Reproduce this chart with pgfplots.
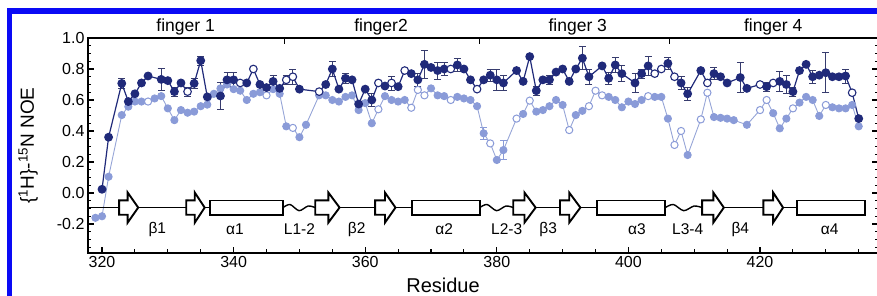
\documentclass[border=0pt]{standalone}
\usepackage{fontspec}
\setmainfont{Liberation Sans}
\usepackage{pgfplots}
\pgfplotsset{compat=1.18}
\usepackage{pgfplotstable}
\definecolor{dk}{RGB}{32,42,122}
\definecolor{dkerr}{RGB}{55,60,110}
\definecolor{lt}{RGB}{138,155,216}
\definecolor{ltline}{RGB}{150,165,215}
\definecolor{frameblue}{RGB}{10,10,245}

\pgfplotstableread{
x y o
320 0.024 f
321 0.36 f
323 0.707 f
324 0.59 f
325 0.64 f
326 0.71 f
327 0.755 f
329 0.733 f
330 0.725 f
331 0.654 f
332 0.71 f
333 0.654 o
334 0.707 f
335 0.854 f
336 0.62 f
338 0.626 f
339 0.73 f
340 0.73 f
341 0.71 o
342 0.71 f
343 0.80 o
344 0.70 f
345 0.68 f
346 0.72 f
347 0.675 f
348 0.73 o
349 0.75 o
350 0.67 f
353 0.654 o
354 0.70 f
355 0.80 f
356 0.67 f
357 0.74 f
358 0.73 f
359 0.574 f
360 0.67 f
361 0.60 f
362 0.71 o
363 0.69 f
364 0.71 o
365 0.686 f
366 0.79 o
367 0.77 f
368 0.73 f
369 0.83 f
370 0.81 f
371 0.79 f
372 0.80 f
373 0.80 o
374 0.826 f
375 0.80 f
376 0.73 f
377 0.67 o
378 0.73 f
379 0.76 f
380 0.73 f
381 0.71 f
383 0.79 f
384 0.72 f
385 0.88 f
386 0.66 f
387 0.73 f
388 0.73 f
389 0.78 f
390 0.80 f
391 0.72 f
392 0.80 f
393 0.87 f
394 0.75 f
396 0.82 f
397 0.74 f
398 0.826 f
399 0.77 f
401 0.71 f
402 0.77 f
403 0.82 f
404 0.77 o
405 0.80 o
406 0.836 f
407 0.75 o
408 0.71 f
409 0.64 f
411 0.79 f
412 0.71 o
413 0.77 f
414 0.75 f
415 0.71 f
417 0.745 f
418 0.675 f
420 0.70 o
421 0.686 f
422 0.71 o
423 0.72 f
424 0.70 f
425 0.654 f
426 0.79 f
427 0.83 f
428 0.75 f
429 0.76 f
430 0.776 f
431 0.75 f
432 0.75 f
433 0.755 f
434 0.647 o
435 0.48 f
}\darkdata

\pgfplotstableread{
x y e
323 0.707 0.035
329 0.733 0.07
331 0.654 0.03
333 0.654 0.03
334 0.707 0.035
335 0.854 0.03
338 0.626 0.085
339 0.73 0.045
340 0.73 0.05
346 0.72 0.04
348 0.73 0.03
349 0.75 0.05
355 0.80 0.05
357 0.74 0.03
361 0.60 0.04
364 0.71 0.045
368 0.73 0.04
369 0.83 0.09
371 0.79 0.055
372 0.80 0.04
374 0.826 0.04
379 0.76 0.04
380 0.73 0.07
381 0.71 0.05
386 0.66 0.03
388 0.73 0.03
393 0.87 0.075
394 0.75 0.05
397 0.74 0.04
398 0.826 0.05
399 0.77 0.05
401 0.71 0.06
402 0.77 0.03
403 0.82 0.06
406 0.836 0.04
408 0.71 0.04
409 0.64 0.04
413 0.77 0.04
417 0.745 0.095
421 0.686 0.03
423 0.72 0.065
424 0.70 0.06
425 0.654 0.03
428 0.75 0.04
430 0.776 0.13
433 0.755 0.045
}\darkerr

\pgfplotstableread{
x y o
319 -0.16 f
320 -0.15 f
321 0.105 f
323 0.503 f
324 0.557 f
325 0.59 f
326 0.59 f
327 0.59 o
328 0.61 f
329 0.625 f
330 0.546 f
331 0.47 f
332 0.535 f
333 0.518 f
334 0.525 f
335 0.56 f
336 0.57 f
337 0.64 f
338 0.675 f
339 0.70 f
340 0.67 f
341 0.66 f
342 0.60 f
343 0.64 f
344 0.65 f
345 0.63 o
346 0.67 f
347 0.64 f
348 0.43 f
349 0.42 o
350 0.36 f
351 0.44 f
353 0.63 f
354 0.63 f
355 0.60 f
356 0.59 f
357 0.62 f
358 0.63 f
359 0.535 f
360 0.58 f
361 0.45 f
362 0.54 o
363 0.625 f
364 0.60 f
365 0.59 f
366 0.60 f
367 0.55 o
368 0.665 o
369 0.63 o
370 0.675 f
371 0.63 f
372 0.625 f
373 0.60 o
374 0.62 f
375 0.61 f
376 0.60 f
377 0.56 f
378 0.385 f
379 0.32 o
380 0.213 f
381 0.277 f
383 0.48 o
384 0.51 f
385 0.596 o
386 0.525 f
387 0.535 f
388 0.56 f
389 0.60 f
390 0.568 f
391 0.406 o
392 0.503 f
393 0.53 f
394 0.56 o
395 0.66 o
396 0.63 o
397 0.62 f
398 0.60 f
399 0.553 f
400 0.59 f
401 0.574 f
402 0.60 f
403 0.625 o
404 0.62 f
405 0.62 f
406 0.48 f
407 0.31 o
408 0.40 o
409 0.245 f
411 0.475 o
412 0.647 o
413 0.49 f
414 0.485 f
415 0.48 f
416 0.47 f
418 0.44 f
420 0.535 o
421 0.60 o
422 0.515 f
423 0.417 f
424 0.48 f
425 0.546 o
426 0.583 f
427 0.62 f
428 0.60 f
429 0.497 f
430 0.568 o
431 0.553 f
432 0.546 f
433 0.546 f
434 0.568 f
435 0.43 f
}\lightdata

\pgfplotstableread{
x y e
378 0.385 0.04
381 0.277 0.06
}\lighterr

\newcommand{\sarrow}[3]{%
  \draw[black, line width=1.9pt, fill=white, line join=miter]
  (#1,-0.048) -- (#2,-0.048) -- (#2,0.003) -- (#3,-0.094) -- (#2,-0.191) -- (#2,-0.140) -- (#1,-0.140) -- cycle;}
\newcommand{\shelix}[2]{%
  \draw[black, line width=1.8pt, fill=white] (#1,-0.048) rectangle (#2,-0.140);}
\newcommand{\sline}[2]{%
  \draw[black, line width=1.4pt] (#1,-0.094) -- (#2,-0.094);}

\begin{document}
\begin{tikzpicture}
\begin{axis}[
  scale only axis,
  width=790pt, height=215pt,
  xmin=317.87, xmax=437.93,
  ymin=-0.387, ymax=1.0,
  clip=false,
  axis line style={line width=1.3pt, black},
  tick style={line width=1.1pt, black},
  tick align=inside,
  major tick length=6pt,
  minor tick length=3.5pt,
  xtick={320,340,...,420},
  minor xtick={315,325,330,335,345,350,355,365,370,375,385,390,395,405,410,415,425,430,435},
  xtick pos=bottom,
  ytick={-0.2,0,0.2,0.4,0.6,0.8,1.0},
  minor ytick={-0.35,-0.3,-0.25,-0.15,-0.1,-0.05,0.05,0.1,0.15,0.25,0.3,0.35,0.45,0.5,0.55,0.65,0.7,0.75,0.85,0.9,0.95},
  ytick pos=both,
  yticklabel pos=left,
  /pgf/number format/assume math mode=true,
  yticklabel style={/pgf/number format/.cd, fixed, fixed zerofill, precision=1},
  xticklabel style={/pgf/number format/.cd, fixed, precision=0, 1000 sep={}},
  tick label style={font=\fontsize{16}{19}\selectfont},
  xlabel={Residue},
  xlabel style={font=\fontsize{20}{24}\selectfont, at={(axis description cs:0.4494,-0.1828)}, anchor=base},
  ylabel={\{\textsuperscript{1}H\}-\textsuperscript{15}N NOE},
  ylabel style={font=\fontsize{19}{22}\selectfont, at={(axis description cs:-0.0684,0.5)}, anchor=base},
]
% light series
\addplot[only marks, mark=none, forget plot,
  error bars/.cd, y dir=both, y explicit,
  error bar style={line width=0.8pt, color=lt},
  error mark options={rotate=90, mark size=3.5pt, line width=0.8pt, color=lt}]
  table[x=x, y=y, y error=e]{\lighterr};
\addplot[ltline, line width=0.9pt, mark size=3.6pt,
  scatter, scatter src=explicit symbolic,
  scatter/classes={
    f={mark=*, draw=lt, fill=lt},
    o={mark=*, draw=lt, fill=white, line width=1pt}}]
  table[x=x, y=y, meta=o]{\lightdata};
% dark series
\addplot[only marks, mark=none, forget plot,
  error bars/.cd, y dir=both, y explicit,
  error bar style={line width=0.8pt, color=dkerr},
  error mark options={rotate=90, mark size=3.5pt, line width=0.8pt, color=dkerr}]
  table[x=x, y=y, y error=e]{\darkerr};
\addplot[dk, line width=1.2pt, mark size=3.8pt,
  scatter, scatter src=explicit symbolic,
  scatter/classes={
    f={mark=*, draw=dk, fill=dk},
    o={mark=*, draw=dk, fill=white, line width=1.1pt}}]
  table[x=x, y=y, meta=o]{\darkdata};

% secondary structure
\sline{317.87}{322.6}
\sline{325.5}{332.8}
\sline{335.6}{336.4}
\sline{356.1}{361.5}
\sline{364.6}{367.1}
\sline{385.9}{389.6}
\sline{392.7}{395.2}
\sline{414.5}{420.5}
\sline{423.5}{425.6}
\addplot[black, line width=1.4pt, smooth, forget plot, mark=none] coordinates {(347.5,-0.094) (348.58,-0.074) (349.95,-0.114) (351.32,-0.084) (352.4,-0.094)};
\addplot[black, line width=1.4pt, smooth, forget plot, mark=none] coordinates {(377.4,-0.094) (378.52,-0.074) (379.95,-0.114) (381.38,-0.084) (382.5,-0.094)};
\addplot[black, line width=1.4pt, smooth, forget plot, mark=none] coordinates {(405.6,-0.094) (406.83,-0.074) (408.4,-0.114) (409.97,-0.084) (411.2,-0.094)};
\sarrow{322.6}{323.9}{325.5}
\sarrow{332.8}{334.1}{335.6}
\shelix{336.4}{347.5}
\sarrow{352.4}{354.4}{356.1}
\sarrow{361.5}{363.0}{364.6}
\shelix{367.1}{377.4}
\sarrow{382.5}{384.2}{385.9}
\sarrow{389.6}{391.0}{392.7}
\shelix{395.2}{405.6}
\sarrow{411.2}{412.9}{414.5}
\sarrow{420.5}{422.0}{423.5}
\shelix{425.6}{436.0}

\begin{scope}[every node/.style={font=\fontsize{15.5}{18}\selectfont}]
\node at (328.4,-0.235) {β1};
\node at (340.2,-0.235) {α1};
\node at (350.0,-0.235) {L1-2};
\node at (358.7,-0.235) {β2};
\node at (372.0,-0.235) {α2};
\node at (381.5,-0.235) {L2-3};
\node at (387.8,-0.235) {β3};
\node at (401.3,-0.235) {α3};
\node at (409.0,-0.235) {L3-4};
\node at (417.0,-0.235) {β4};
\node at (430.6,-0.235) {α4};
\end{scope}

% top ticks and finger labels
\draw[line width=1.1pt] (347.8,1) -- (347.8,0.961);
\draw[line width=1.1pt] (377.4,1) -- (377.4,0.961);
\draw[line width=1.1pt] (406.2,1) -- (406.2,0.961);
\begin{scope}[every node/.style={font=\fontsize{17.5}{20}\selectfont, anchor=base}]
\node at (332.7,1.039) {finger 1};
\node at (362.4,1.039) {finger2};
\node at (392.3,1.039) {finger 3};
\node at (422.0,1.039) {finger 4};
\end{scope}
\end{axis}
\fill[frameblue] (-81pt,-43pt) rectangle (-76pt,245pt);
\fill[frameblue] (-81pt,239pt) rectangle (789pt,245pt);
\pgfresetboundingbox
\path[use as bounding box] (-88pt,-43pt) rectangle (789pt,253pt);
\end{tikzpicture}
\end{document}
